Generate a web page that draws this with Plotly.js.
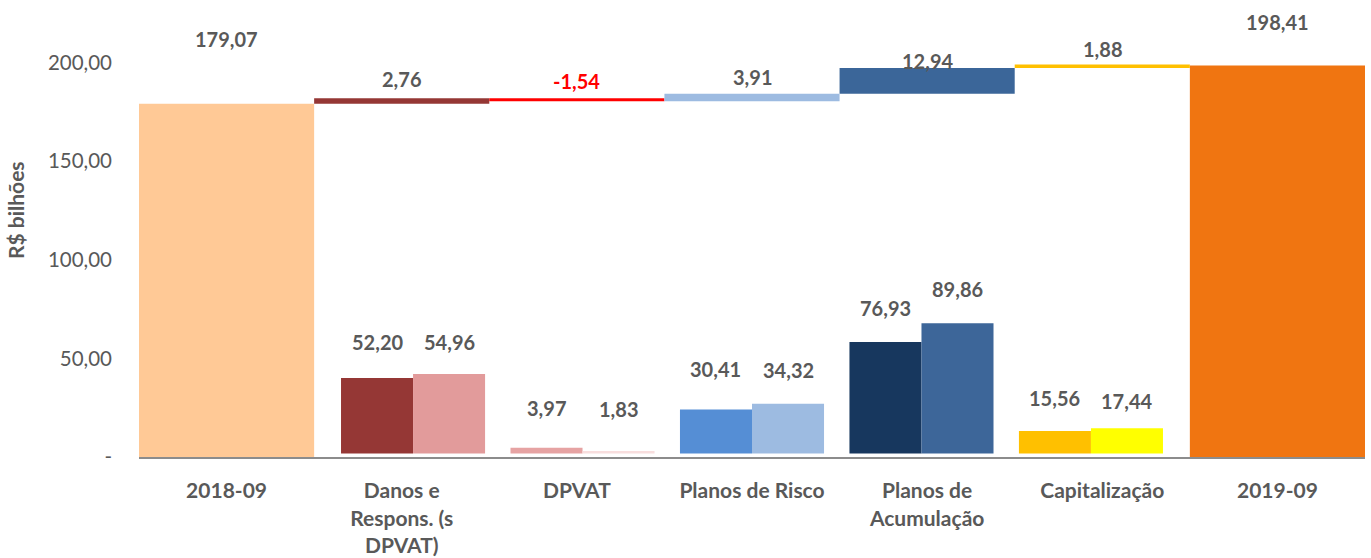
<!DOCTYPE html>
<html>
<head>
<meta charset="utf-8">
<script src="https://cdn.plot.ly/plotly-3.0.1.min.js"></script>
<style>html,body{margin:0;padding:0;background:#fff}#chart{width:1371px;height:558px}</style>
</head>
<body>
<div id="chart"></div>
<script>
// ---- data ----
const categories = ['2018-09', 'Danos e<br>Respons. (s<br>DPVAT)', 'DPVAT', 'Planos de Risco', 'Planos de<br>Acumulação', 'Capitalização', '2019-09'];
const startValue = 179.07;
const endValue = 198.41;
const deltas = [2.76, -1.54, 3.91, 12.94, 1.88];
const prevValues = [52.20, 3.97, 30.41, 76.93, 15.56];
const currValues = [54.96, 1.83, 34.32, 89.86, 17.44];
const yTickVals = [0, 50, 100, 150, 200];
const yTickText = ['-', '50,00', '100,00', '150,00', '200,00'];

// ---- styles ----
const deltaColors = ['#953735', '#FF0000', '#9DBBE1', '#3B6699', '#FFC000'];
const prevColors = ['#953735', '#E6A3A3', '#558ED5', '#17375E', '#FFC000'];
const currColors = ['#E29B9B', '#F8DEDE', '#9DBBE1', '#3D6699', '#FFFF00'];
const wfLabelShift = [65, 19, 17, 17, 7, 15, 44];
const prevLabelShift = [36, 40, 40, 34, 33];
const currLabelShift = [32, 42, 34, 34, 27];
const pairWidth = 0.425;
const txt = '#595959';
const fontFam = 'Lato, "Open Sans", sans-serif';

const fmt = v => v.toFixed(2).replace('.', ',');

const midCats = categories.slice(1, 6);
const bases = [];
let cum = startValue;
deltas.forEach(d => { bases.push(cum); cum += d; });

const traces = [
  {type: 'bar', x: [categories[0], categories[6]], y: [startValue, endValue],
   marker: {color: ['#FFC996', '#F07511']}, width: 1, hoverinfo: 'skip', showlegend: false},
  {type: 'bar', x: midCats, y: deltas, base: bases,
   marker: {color: deltaColors}, width: 1, hoverinfo: 'skip', showlegend: false},
  {type: 'bar', x: midCats, y: prevValues, xaxis: 'x2', yaxis: 'y2',
   marker: {color: prevColors}, width: pairWidth, offset: -pairWidth, hoverinfo: 'skip', showlegend: false},
  {type: 'bar', x: midCats, y: currValues, xaxis: 'x2', yaxis: 'y2',
   marker: {color: currColors}, width: pairWidth, offset: 0, hoverinfo: 'skip', showlegend: false}
];

const annotations = [];
const lblFont = (c) => ({family: fontFam, size: 20, color: c, weight: 'bold'});
// waterfall labels
const wfTops = [startValue].concat(bases.map((b, i) => Math.max(b, b + deltas[i]))).concat([endValue]);
const wfVals = [startValue].concat(deltas).concat([endValue]);
wfVals.forEach((v, i) => {
  annotations.push({x: i, y: wfTops[i], xref: 'x', yref: 'y', text: fmt(v), showarrow: false,
    yanchor: 'middle', yshift: wfLabelShift[i], font: lblFont(v < 0 ? '#FF0000' : txt)});
});
// pair labels
prevValues.forEach((v, i) => {
  annotations.push({x: i + 1 - pairWidth / 2, y: v, xref: 'x2', yref: 'y2', text: fmt(v), showarrow: false,
    yanchor: 'middle', yshift: prevLabelShift[i], font: lblFont(txt)});
  annotations.push({x: i + 1 + pairWidth / 2, y: currValues[i], xref: 'x2', yref: 'y2', text: fmt(currValues[i]), showarrow: false,
    yanchor: 'middle', yshift: currLabelShift[i], font: lblFont(txt)});
});
// y title
annotations.push({xref: 'paper', yref: 'paper', x: -0.1003, y: 0.5526, text: 'R$ bilhões', textangle: -90,
  showarrow: false, xanchor: 'center', yanchor: 'middle', font: {family: fontFam, size: 21, color: txt, weight: 'bold'}});

const layout = {
  width: 1371, height: 558,
  margin: {l: 139, r: 6, t: 10, b: 101},
  paper_bgcolor: '#fff', plot_bgcolor: '#fff',
  barmode: 'overlay',
  xaxis: {type: 'category', categoryorder: 'array', categoryarray: categories, range: [-0.5, 6.5],
    showgrid: false, zeroline: false, showline: true, linecolor: '#8C8C8C', linewidth: 2,
    ticks: '', ticklabelstandoff: 14, tickfont: {family: fontFam, size: 21, color: txt, weight: 'bold'}},
  xaxis2: {type: 'category', categoryorder: 'array', categoryarray: categories, range: [-0.617, 6.617],
    overlaying: 'x', visible: false},
  yaxis: {range: [0, 226.6], showgrid: false, zeroline: false, showline: false,
    tickvals: yTickVals, ticktext: yTickText, ticks: '', ticklabelstandoff: 26,
    tickfont: {family: fontFam, size: 20.5, color: txt}},
  yaxis2: {overlaying: 'y', range: [-2.38, 306.1], visible: false},
  annotations: annotations,
  showlegend: false,
  font: {family: fontFam}
};

Plotly.newPlot('chart', traces, layout, {displayModeBar: false, staticPlot: true});
</script>
</body>
</html>
